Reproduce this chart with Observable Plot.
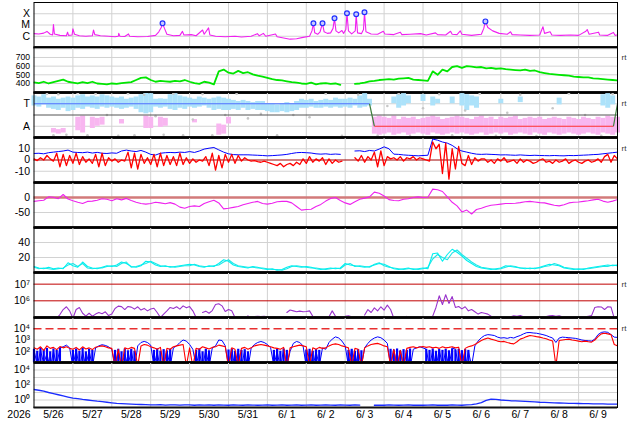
<!DOCTYPE html>
<html><head><meta charset="utf-8">
<script src="https://cdn.jsdelivr.net/npm/d3@7"></script>
<script src="https://cdn.jsdelivr.net/npm/@observablehq/plot@0.6"></script>
<style>
body{margin:0;background:#fff;}
#chart{position:relative;width:634px;height:424px;overflow:hidden;}
</style></head><body><div id="chart"></div>
<script>
// ---------- DATA (hours since 2026-05-26 00:00) ----------
const yearLabel = "2026";
const dayLabels = ["5/26","5/27","5/28","5/29","5/30","5/31","6/ 1","6/ 2","6/ 3","6/ 4","6/ 5","6/ 6","6/ 7","6/ 8","6/ 9"];

// X-ray flux [hour, W/m2]
const xrayPoints = [[0,1.7e-6],[3,1.6e-6],[6,1.9e-6],[8,2.7e-6],[10,1.5e-6],[11.5,1.3e-6],[12,1.1e-5],[12.6,1.6e-6],[16,1.2e-6],[20,1.1e-6],[20.7,2.3e-6],[21.3,1.2e-6],[23.5,1.3e-6],[24,4.5e-6],[25,1.5e-6],[28,1.1e-6],[32,1e-6],[36,1.1e-6],[36.7,3.6e-6],[37.5,1.4e-6],[41,1.1e-6],[46,1e-6],[50,9e-7],[52,1e-6],[52.3,1.8e-6],[53,1e-6],[56,9.5e-7],[58.3,1.6e-6],[59,1e-6],[64,9e-7],[70,9.5e-7],[75,1.2e-6],[77,2.5e-6],[78.5,6e-6],[79.3,1.4e-5],[80.5,5e-6],[82,1.5e-6],[86,1.1e-6],[90,1.2e-6],[91.6,2.7e-6],[92.5,1.3e-6],[97,1.4e-6],[100,1.1e-6],[104,3.6e-6],[105,1.5e-6],[107.7,5.5e-6],[108.5,1.3e-6],[112,1e-6],[118,9e-7],[124,1e-6],[128,8.5e-7],[134,1e-6],[137.8,1.7e-6],[139,1.1e-6],[141.5,1.8e-6],[143,1e-6],[149,1.6e-6],[150,9e-7],[154,7e-7],[158,5.5e-7],[162,6e-7],[166,8e-7],[170,1e-6],[171.5,3e-6],[172.4,1.4e-5],[173.2,2e-6],[175,1.5e-6],[176.5,2.5e-6],[178,1.4e-5],[179,2.5e-6],[181,1.8e-6],[183,2e-6],[184.5,5e-6],[185.4,3.9e-5],[186.3,3e-6],[188,2e-6],[190,3.2e-6],[191,1.8e-6],[192.4,4e-6],[193.1,1.1e-4],[194,3e-6],[196,1.6e-6],[198.2,3e-6],[198.8,8.9e-5],[199.6,2e-6],[202,1.7e-6],[203.3,4e-6],[203.9,1.35e-4],[204.8,2.5e-6],[208,1.6e-6],[212,1.5e-6],[215.5,2.8e-6],[216.5,1.6e-6],[222,1.4e-6],[226,2.3e-6],[227,1.4e-6],[232,1.5e-6],[238.5,1.7e-6],[242,1.3e-6],[247.7,2e-6],[249,1.4e-6],[254,1.3e-6],[257,2.8e-6],[258,1.5e-6],[261,1.4e-6],[263,3e-6],[264,1.5e-6],[270,1.2e-6],[276,1.5e-6],[277.5,5e-6],[278.5,2.1e-5],[280,6e-6],[283,3e-6],[287,1.8e-6],[292,1.5e-6],[294,2.5e-6],[295,1.4e-6],[300,1.3e-6],[306,1.2e-6],[312,1.3e-6],[314,7e-6],[315,1.8e-6],[318.4,2.5e-6],[319.5,1.3e-6],[325,1.2e-6],[331,1.3e-6],[336,1.2e-6],[340.5,2.8e-6],[341.3,4e-6],[342.5,1.5e-6],[348.3,2.3e-6],[349,1.3e-6],[354,1.2e-6],[357.5,2.2e-6],[358.5,1.2e-6],[360,1.3e-6]];
const flarePoints = [[79.3,1.4e-5],[172.4,1.4e-5],[178,1.4e-5],[185.4,3.9e-5],[193.1,1.1e-4],[198.8,8.9e-5],[203.9,1.35e-4],[278.5,2.1e-5]];
const xrayTicks = [1e-4, 1e-5, 1e-6];
const xrayTickLabels = ["X", "M", "C"];

// Solar wind speed, every 3 h
const speed = [412,405,420,400,415,430,445,420, 410,400,415,405,420,400,395,390, 400,395,405,410,415,440,465,470, 440,420,430,425,420,430,425,440, 420,405,395,420,410,390,540,560, 525,515,545,520,530,505,490,480, 465,450,440,435,425,415,410,400, 395,410,390,400,405,395,400,385, null,null,395,400,410,425,430,440, 445,450,445,455,460,465,445,440, 435,430,540,500,560,540,590,600, 580,600,595,585,590,575,580,570, 575,565,560,555,550,560,545,550, 530,520,510,505,500,495,490,480, 475,470,470,460,455,450,445,440, 435];
const speedTicks = [400, 500, 600, 700];

// IMF sector (T/A), every 3 h: light-blue and pink clouds (hi/lo), T=0.5, A=-0.5
const blueHi = [0.85,0.8,0.9,0.75,0.8,0.7,0.75,0.8, 0.75,0.85,0.9,0.8,0.85,0.8,0.9,0.85, 0.8,0.75,0.8,0.7,0.75,0.8,0.9,0.98, 0.95,0.7,0.72,0.7,0.9,0.95,0.85,0.8, 0.75,0.7,0.8,0.75,0.7,0.75,0.8,0.75, 0.7,0.65,0.6,0.65,0.6,0.55,0.6,0.6, 0.5,0.5,0.45,0.5,0.55,0.5,0.6,0.7, 0.65,0.7,0.6,0.65,0.7,0.65,0.75,0.7, 0.7,0.75,0.7,0.85,0.95,0.7,null,null, null,null,0.8,0.9,0.95,0.85,null,null, 0.9,null,0.8,0.7,null,null,0.8,null, 0.95,0.9,0.85,0.8,null,null,null,null, 0.7,null,null,null,0.8,null,null,null, null,null,null,null,0.75,null,null,null, null,null,null,null,null,0.9,0.95,0.85, null];
const blueLo = [0.4,0.35,0.45,0.3,0.25,0.2,0.3,0.15, 0.2,0.3,0.25,0.35,0.3,0.25,0.35,0.3, 0.35,0.3,0.25,0.3,0.35,0.25,0.1,0.05, 0.1,0.35,0.3,0.35,0.25,0.2,0.3,0.25, 0.35,0.3,0.35,0.4,0.3,0.2,0.25,0.2, 0.2,0.25,0.2,0.3,0.2,0.25,0.2,0.2, 0.15,0.1,0.1,0.15,0.1,0.15,0.2,0.3, 0.3,0.35,0.3,0.3,0.35,0.3,0.35,0.3, 0.35,0.3,0.4,0.3,0.35,0.4,null,null, null,null,0.5,0.3,0.4,0.5,null,null, 0.6,null,0.4,0.5,null,null,0.5,null, 0.4,0.2,0.4,0.3,null,null,null,null, 0.5,null,null,null,0.55,null,null,null, null,null,null,null,0.45,null,null,null, null,null,null,null,null,0.4,0.3,0.45, null];
const pinkHi = [null,null,null,null,-0.6,-0.65,-0.6,null, null,-0.1,-0.05,null,-0.1,-0.15,-0.1,null, null,null,-0.2,null,null,null,null,-0.05, -0.1,null,-0.1,-0.15,null,null,null,null, null,-0.2,null,null,null,null,-0.4,-0.45, -0.1,null,null,null,null,null,null,null, null,null,null,null,null,null,null,null, null,null,null,null,null,null,null,null, null,null,null,null,null,null,-0.1,-0.05, -0.1,-0.15,-0.05,-0.2,-0.1,-0.15,-0.1,-0.2, -0.15,-0.1,-0.05,-0.1,-0.2,-0.15,-0.1,-0.05, -0.1,-0.15,-0.2,-0.1,-0.05,-0.15,-0.1,-0.2, -0.1,-0.15,-0.1,-0.05,-0.2,-0.15,-0.1,-0.15, -0.1,-0.2,-0.15,-0.1,-0.15,-0.2,-0.1,-0.15, -0.2,-0.1,-0.15,-0.2,-0.1,-0.15,-0.05,-0.1, -0.1];
const pinkLo = [null,null,null,null,-0.8,-0.85,-0.8,null, null,-0.7,-0.8,null,-0.6,-0.5,-0.45,null, null,null,-0.4,null,null,null,null,-0.6, -0.6,null,-0.55,-0.5,null,null,null,null, null,-0.35,null,null,null,null,-0.9,-0.85, -0.4,null,null,null,null,null,null,null, null,null,null,null,null,null,null,null, null,null,null,null,null,null,null,null, null,null,null,null,null,null,-0.85,-0.9, -0.85,-0.8,-0.9,-0.85,-0.8,-0.9,-0.85,-0.8, -0.85,-0.9,-0.8,-0.85,-0.9,-0.85,-0.8,-0.85, -0.8,-0.85,-0.9,-0.85,-0.8,-0.9,-0.85,-0.8, -0.85,-0.8,-0.9,-0.85,-0.8,-0.85,-0.9,-0.8, -0.85,-0.9,-0.8,-0.85,-0.9,-0.85,-0.8,-0.85, -0.9,-0.85,-0.8,-0.85,-0.9,-0.8,-0.85,-0.9, -0.8];
const grayHours = [8,12,15,20,27,33,38,45,52,58,62,68,75,80,86,92,98,104,110,118,125,132,140,150,160,170,180,190,200,212,218,225,232,240,250,258,266,275,285,292,300,310,320,330,340,350,357];
const grayValues = [0.95,-0.9,0.92,-0.88,0.97,-0.9,0.95,0.0,-0.92,0.96,-0.9,0.9,-0.05,-0.88,0.95,-0.9,-0.2,0.93,-0.9,0.0,0.95,-0.15,0.05,-0.9,0.0,-0.1,0.95,-0.92,0.9,-0.92,0.4,0.95,-0.93,0.3,0.92,-0.9,0.2,0.95,-0.92,0.1,0.9,-0.93,0.3,0.96,0.0,-0.92,0.94];
const sectorHours = [0, 207, 210, 357.5, 360];
const sectorLevels = [0.5, 0.5, -0.5, -0.5, 0.5];
const sectorColors = ["#5070ff", "#3f7f3f", "#ff3030", "#3f7f3f"];
const sectorTicks = [0.5, -0.5];
const sectorTickLabels = ["T", "A"];

// IMF Bz every 2 h, Bt every 3 h (nT)
const bz = [1,-0.5,2,0,4,1,-1, 6,-6,5,-5,4,-3, 6,-4,3,-2,1,-3, 5,-6,6,-5,2,-1, 1,-2,0,-1,7,-7, 6,-8,5,-3,2,-4, 5,-6,6,-5,4,-4, 3,-5,6,-4,2,-3, 1,-2,0,-1,3,-5, 6,-9,4,-7,5,-2, 5,-3,4,-1,2,0, -1,-0.5,-1.5,-2,-1,-2, -3,-4,-5,-3,-6,-4, -3,-5,-2,-4,1,-3, 3,-2,1,-1,2,-4, 1,-3,0,-2,-1, null,null,null, 2,-1,4,-2,3,0, 7,-6,8,-5, 3,1,2,0,3,-1,2, 1,3,0,2,1,0,-1, 16,10,14, -12,15,-17,10,-8,12,-3, -5,4,-4,2,-1,1, 1,-2,0,-3,1,-1,2,-2,-1,0, -3,1,-2,0,-1,-3,-2,0,1,-2, -1,-3,0,-2,-1,1,-3,-1,0,-2, -3,-1,0,-2,-1,1,-2,3,5,-2, 4,1];
const bt = [5.8,6,5.5,6.5,7,7.5,8,8.8, 7,6.7,6.5,7,6.2,6.8,6,5.8, 6.3,6,8,8.8,8,7.5,8.5,7, 5,4.4,6,6.5,6.7,6.5,7,6.7, 7.5,6.7,8,9.7,10.5,11.1,9,7, 5.5,4.8,4.6,4.6,4.6,4.4,4.2,4, 3.7,3.9,4.2,4.5,5,5.8,6.5,6.7, 6.5,6.2,5.5,5.2,5.5,5,5.3,5, null,null,8,8.2,7.5,8.5,8,9.7, 11.7,10,5.2,5,4.5,4.2,4,3.7, 4,4.2,18.6,17.6,16,15,13,10, 8,7,6,5.2,5,5.2,5,4.8, 4.5,4.6,4.4,4.2,4.5,4.2,4,4.2, 4,3.9,3.8,4,3.8,3.7,4,3.9, 4.1,4.3,4.5,4.8,5,5.5,6,6.5, 7];
const bTicks = [10, 0, -10];

// Dst every 3 h (nT)
const dst = [-13,-11,-9,2,1,-4,10,-5, -11,-16,-20,-13,-12,-9,-4,-6, -11,-4,-8,-3,-10,-16,-20,-22, -20,-16,-18,-21,-17,-22,-32,-36, -30,-28,-30,-20,-14,-9,-18,-38, -36,-33,-30,-24,-20,-16,-13,-20, -22,-19,-14,-13,-13,-18,-30,-42, -40,-39,-30,-23,-12,-3,0,-10, -18,-23,-14,-6,-2,2,18,14, 5,-7,-10,-11,-6,-4,0,2, 0,1,28,26,20,2,-16,-28, -48,-42,-55,-40,-36,-30,-26,-24, -22,-20,-20,-19,-17,-14,-13,-15, -17,-18,-22,-26,-28,-24,-18,-16, -15,-13,-11,-8,-6,-12,-16,-12, -7];
const dstTicks = [0, -50];

// Proton density, two sources, every 3 h
const densA = [8,6,5,7,5,6,5,13, 9,7,14,8,6,5,7,9, 8,10,14,12,8,7,9,15, 14,10,8,9,7,8,9,10, 11,10,8,7,9,8,12,17, 15,10,8,7,6,8,7,5, 4,5,3,4,7,9,8,7, 8,7,5,4,5,6,5,6, 12,10,9,8,7,8,10,12, 11,8,5,4,5,6,4,5, 6,5,25,26,15,24,31,27, 22,16,12,8,6,5,4,5, 6,9,8,7,6,5,6,5, 7,9,11,10,9,6,5,4, 5,4,6,7,8,9,10,9, 10];
const densB = [7,5,6,5,4,5,6,10, 12,8,12,6,5,6,6,8, 9,8,12,14,7,8,10,12, 15,12,9,8,8,7,8,9, 9,11,9,8,8,9,10,14, 17,12,9,8,7,7,6,6, 5,4,4,3,5,8,9,8, 7,6,6,5,4,5,6,5, 10,12,8,9,8,7,11,13, 9,7,6,5,4,5,5,4, 5,7,18,24,20,17,26,30, 24,19,14,10,7,6,5,4, 5,7,9,8,6,6,5,6, 6,8,9,12,10,7,6,5, 4,5,5,6,7,8,8,10, 9];
const densTicks = [40, 20];

// >2 MeV electron flux every 2 h
const electron = [null,null,null,null,null,null,null,9e4,1.5e5,3e5, 4.4e5,2.5e5,9e4,3e5,4e5,1.8e5,1.2e5,1.8e5,1.2e5,1.6e5, 2e5,1.7e5,2.2e5,1.3e5,1.6e5,3.5e5,4.8e5,4.5e5,3e5,4.6e5, 4.2e5,3.2e5,4.4e5,2.8e5,3.5e5,2.5e5,3.2e5,3.6e5,2e5,1e5, 1.6e5,2.5e5,4e5,3.5e5,4.4e5,3.2e5,5e5,3.8e5,4.5e5,2.5e5, 1e5,null,2e5,2.4e5,1.8e5,2.6e5,6e5,6.6e5,5e5,2.3e5, 3e5,2.5e5,1e5,null,null,null,1.3e5,null,1.15e5,1.2e5, 1.15e5,1.2e5,1.1e5,null,null,null,null,null,2e5,2.8e5, 2.5e5,2.2e5,2.4e5,2.2e5,2.3e5,2.5e5,1.2e5,9e4,null,null, null,1.1e5,2.5e5,1.2e5,null,null,1.2e5,1.25e5,1.1e5,null, null,null,1.4e5,3e5,2e5,3.8e5,2.5e5,4.4e5,2.8e5,5.5e5, 3e5,9e4,null,null,null,1.2e5,null,null,null,null, null,null,1.1e5,1.2e5,4e5,2e6,6e5,2.3e6,7e5,1.8e6, 4e5,4.6e5,3.3e5,4.4e5,2.5e5,3e5,2.2e5,1.6e5,2e5,1.8e5, 1.6e5,1.2e5,null,null,null,null,null,1.1e5,1.25e5,1.2e5, 1.3e5,1.1e5,null,null,null,null,null,null,1.15e5,1.25e5, 1.3e5,1.2e5,1.25e5,1.1e5,null,null,1.1e5,1.15e5,1.1e5,1.15e5, 1.1e5,1.2e5,1.3e5,4e5,4.4e5,4.3e5,3e5,4.4e5,4.2e5,9e4, null];
const electronTicks = [1e7, 1e6];
const electronTickLabels = ["10\u2077", "10\u2076"];

// Electron/proton flux (two channels) every 2 h, plus the noisy low-level part of the blue channel
const fluxBlue = [150,5,120,8,60,3,100,5,200,250, 350,200,4,150,3,80,5,120,4,200, 300,380,330,250,150,3,100,4,60,5, 120,3,300,600,750,600,350,5,80,3, 5,120,4,200,300,600,1000,800,400,150, 5,100,3,150,4,200,300,1000,900,300, 5,150,3,100,4,120,3,200,400,600, 740,600,400,200,5,100,3,150,4,100, 500,740,600,300,4,120,3,100,5,200, 150,600,1200,1900,1500,800,300,5,150,3, 100,5,200,500,1000,1500,1900,1600,1000,500, 5,150,3,120,4,100,3,150,200,250, 200,150,4,120,3,150,5,100,4,200, 150,4,120,3,100,5,300,800,1600,2500, 3000,2800,2500,1800,1500,1600,1400,1700,1500,2000, 2500,3500,4500,4600,4200,4000,3500,3000,2500,1900, 1500,600,1500,1800,1700,1600,1500,1400,1200,1000, 900,850,800,1200,3000,4700,5300,4800,3000,1800, 1700];
const blueNoise = [150,100,200,120,180,90,160,120,200,null, null,null,120,160,100,180,90,150,120,null, null,null,null,null,null,120,150,90,160,110, 150,100,null,null,null,null,null,120,160,100, 140,100,150,null,null,null,null,null,null,null, 120,160,90,150,110,null,null,null,null,null, 130,160,100,150,120,140,90,null,null,null, null,null,null,null,120,150,100,160,120,null, null,null,null,null,130,150,100,140,120,null, null,null,null,null,null,null,null,120,150,100, 140,110,null,null,null,null,null,null,null,null, 150,110,160,100,140,120,160,null,null,null, null,150,120,160,100,140,120,150,110,160, 130,150,110,140,120,null,null,null,null,null, null,null,null,null,null,null,null,null,null,null, null,null,null,null,null,null,null,null,null,null, null,null,null,null,null,null,null,null,null,null, null,null,null,null,null,null,null,null,null,null, null];
const fluxRed = [200,150,250,120,300,180,220,140,260,200, 250,180,150,220,130,250,160,200,140,230, 260,300,250,200,180,5,150,4,200,160, 220,180,5,300,400,350,250,200,150,220, 5,180,150,250,300,350,400,5,200,4, 180,150,250,200,160,220,250,350,300,250, 4,200,150,5,180,220,150,200,300,350, 400,350,300,250,200,180,150,220,4,200, 250,300,350,300,250,5,200,150,220,180, 200,300,400,450,400,300,250,200,5,180, 150,5,200,300,400,450,500,400,300,250, 5,150,4,120,5,180,220,250,200,240, 260,220,250,200,230,180,250,200,220,250, 200,230,5,180,250,300,400,600,900,1200, 1500,1200,1000,800,700,750,600,500,450,700, 1200,1500,2000,2500,2300,2000,1800,1500,1300,1000, 800,5,900,1000,1100,1200,1000,900,800,700, 800,700,650,1000,2000,3500,4000,3500,3000,400, 300];
const fluxTicks = [1e4, 1e3, 1e2];
const fluxTickLabels = ["10\u2074", "10\u00b3", "10\u00b2"];

// Proton flux every 3 h
const proton = [25,20,15,10,7,5,3.5,2.5, 1.8,1.5,1.2,1.0,0.85,0.7,0.6,0.5, 0.42,0.36,0.33,0.3,0.28,0.26,0.25,0.24, 0.23,0.22,0.24,0.21,0.23,0.22,0.21,0.23, 0.22,0.2,0.22,0.21,0.23,0.2,0.22,0.21, 0.2,0.22,0.21,0.2,0.22,0.21,0.2,0.21, 0.22,0.2,0.21,0.22,0.2,0.21,0.22,0.2, 0.21,0.22,0.2,0.21,0.23,0.21,0.2,0.22, 0.21,0.2,0.22,0.21,null,null,0.2,0.21, 0.2,0.22,0.21,0.2,0.21,0.22,0.2,0.21, 0.2,0.21,0.22,0.2,0.21,0.2,0.22,0.21, 0.2,0.22,0.24,0.3,0.45,0.9,1.3,1.2, 1.0,0.9,0.8,0.75,0.7,0.65,0.6,0.55, 0.5,0.48,0.45,0.42,0.4,0.38,0.36,0.35, 0.34,0.33,0.32,0.3,0.31,0.3,0.29,0.28, 0.28];
const protonTicks = [1e4, 1e2, 1e0];
const protonTickLabels = ["10\u2074", "10\u00b2", "10\u2070"];

// ---------- DRAWING ----------
const chart = document.getElementById("chart");
const FONT = "'Liberation Sans', Arial, sans-serif";
const W = 634, ML = 33.5, MR = 17, PH = 45, PAD = 4;
const tops = [1.7, 46.7, 91.7, 136.7, 181.7, 226.7, 271.7, 316.7, 361.7];
const HOURS = dayLabels.length * 24;
const dayEdges = dayLabels.slice(1).map((_, i) => (i + 1) * 24);
const series = (arr, s) => arr.map((v, i) => ({h: i * s, v}));
const GRID = "#d2d2d2";

function yText(vals, labels, size = 10.5) {
  return Plot.text(vals, {x: () => 0, y: d => d, text: (d, i) => labels ? labels[i] : String(d),
    textAnchor: "end", dx: -4, fontSize: size, fill: "black", fontFamily: FONT});
}
function rt(v) {
  return Plot.text([v], {x: () => HOURS, y: d => d, text: () => "rt", textAnchor: "start", dx: 4, fontSize: 8, fill: "#333", fontFamily: FONT});
}
function grid(vals, color = GRID, w = 1) { return Plot.ruleY(vals, {stroke: color, strokeWidth: w}); }

function addPanel(i, yScale, marks, extraBottom = 0) {
  const svg = Plot.plot({
    width: W, height: PH + 2 * PAD + extraBottom,
    marginLeft: ML, marginRight: MR, marginTop: PAD, marginBottom: PAD + extraBottom,
    x: {domain: [0, HOURS], axis: null},
    y: {...yScale, axis: null},
    color: {type: "identity"},
    style: `background: transparent; overflow: visible; font-family: ${FONT};`,
    marks: [
      Plot.ruleX(dayEdges, {stroke: GRID}),
      ...marks,
      Plot.frame({stroke: "black", strokeWidth: 1}),
      Plot.ruleY([yScale.domain[0]], {stroke: "#111", strokeWidth: i < 8 ? 3 : 2})
    ]
  });
  svg.style.position = "absolute";
  svg.style.left = "0px";
  svg.style.top = (tops[i] - PAD) + "px";
  chart.appendChild(svg);
}

// 1 X-ray
const xray = xrayPoints.map(([h, f]) => ({h, f}));
addPanel(0, {type: "log", domain: [1e-7, 1e-3]}, [
  grid(xrayTicks),
  Plot.line(xray, {x: "h", y: "f", stroke: "#f020f0", strokeWidth: 1.1, clip: true}),
  Plot.dot(flarePoints, {x: d => d[0], y: d => d[1], r: 2.4, stroke: "#2030ff", fill: "#c8ccff", strokeWidth: 1.2}),
  yText(xrayTicks, xrayTickLabels)
]);

// 2 Speed
addPanel(1, {domain: [296, 815]}, [
  grid([400, 500, 600, 700, 800]),
  Plot.line(series(speed, 3), {x: "h", y: "v", stroke: "#00e600", strokeWidth: 1.8, clip: true}),
  yText(speedTicks, null, 8.6),
  rt(700)
]);

// 3 Sector T/A
const blueBand = blueHi.map((hi, i) => ({h: i * 3, hi, lo: blueLo[i]})).filter(d => d.hi != null && d.lo != null);
const pinkBand = pinkHi.map((hi, i) => ({h: i * 3, hi, lo: pinkLo[i]})).filter(d => d.hi != null && d.lo != null);
const grayDots = grayHours.map((h, i) => ({h, v: grayValues[i]}));
const sectorSegs = sectorColors.map((c, i) => ({x1: sectorHours[i], y1: sectorLevels[i], x2: sectorHours[i + 1], y2: sectorLevels[i + 1], c}));
addPanel(2, {domain: [-1, 1]}, [
  grid(sectorTicks),
  Plot.ruleX(blueBand, {x: "h", y1: "lo", y2: "hi", stroke: "#ace2fa", strokeWidth: 5}),
  Plot.ruleX(pinkBand, {x: "h", y1: "lo", y2: "hi", stroke: "#f8b6f0", strokeWidth: 5}),
  Plot.dot(grayDots, {x: "h", y: "v", r: 1.3, fill: "#c6c6c6", stroke: null}),
  grid([0], "#555"),
  Plot.link(sectorSegs, {x1: "x1", y1: "y1", x2: "x2", y2: "y2", stroke: "c", strokeWidth: 1.2}),
  yText(sectorTicks, sectorTickLabels),
  rt(0.5)
]);

// 4 Bz / Bt
addPanel(3, {domain: [-20, 20]}, [
  grid([10, -10]),
  grid([0], "#a00000"),
  Plot.line(series(bt, 3), {x: "h", y: "v", stroke: "#0000ff", strokeWidth: 1, clip: true}),
  Plot.line(series(bz, 2), {x: "h", y: "v", stroke: "#ff0000", strokeWidth: 1.3, clip: true}),
  yText(bTicks),
  rt(10)
]);

// 5 Dst
addPanel(4, {domain: [-100, 50]}, [
  grid([-50]),
  grid([0], "#d27a7a", 2.5),
  Plot.line(series(dst, 3), {x: "h", y: "v", stroke: "#ee22ee", strokeWidth: 1.1, clip: true}),
  yText(dstTicks)
]);

// 6 Density
addPanel(5, {domain: [0, 60]}, [
  grid([20, 40]),
  Plot.line(series(densB, 3), {x: "h", y: "v", stroke: "#22e6e6", strokeWidth: 1.1, clip: true}),
  Plot.line(series(densA, 3), {x: "h", y: "v", stroke: "#00f0f0", strokeWidth: 1.1, clip: true}),
  yText(densTicks)
]);

// 7 Electrons
addPanel(6, {type: "log", domain: [1e5, 5e7]}, [
  grid(electronTicks, "#c00000"),
  Plot.line(series(electron, 2), {x: "h", y: "v", stroke: "#9933cc", strokeWidth: 1.1, clip: true}),
  yText(electronTicks, electronTickLabels),
  rt(1e7)
]);

// 8 Flux two channels
const noise = series(blueNoise, 2).filter(d => d.v != null);
addPanel(7, {type: "log", domain: [10, 1e5]}, [
  grid([1e2, 1e3]),
  Plot.ruleX(noise, {x: "h", y1: () => 10, y2: "v", stroke: "#0000ff", strokeWidth: 2.2}),
  Plot.line(series(fluxBlue, 2), {x: "h", y: "v", stroke: "#0000ff", strokeWidth: 1, clip: true}),
  Plot.line(series(fluxRed, 2), {x: "h", y: "v", stroke: "#ff0000", strokeWidth: 1.1, clip: true}),
  Plot.ruleY([1e4], {stroke: "#e83030", strokeWidth: 1.3, strokeDasharray: "8,4"}),
  yText(fluxTicks, fluxTickLabels),
  rt(1e4)
]);

// 9 Protons + time axis
addPanel(8, {type: "log", domain: [0.1, 1e5]}, [
  grid([1e0, 1e1, 1e2, 1e3, 1e4]),
  Plot.line(series(proton, 3), {x: "h", y: "v", stroke: "#1a2cff", strokeWidth: 1.3, clip: true}),
  yText(protonTicks, protonTickLabels),
  Plot.text(dayLabels, {x: (d, i) => i * 24 + 12, frameAnchor: "bottom", dy: 10, fontSize: 10.5, fill: "black", fontFamily: FONT}),
  Plot.text([yearLabel], {x: () => 0, frameAnchor: "bottom", dy: 10, dx: -15, fontSize: 10.5, fill: "black", fontFamily: FONT})
], 18);
</script></body></html>
